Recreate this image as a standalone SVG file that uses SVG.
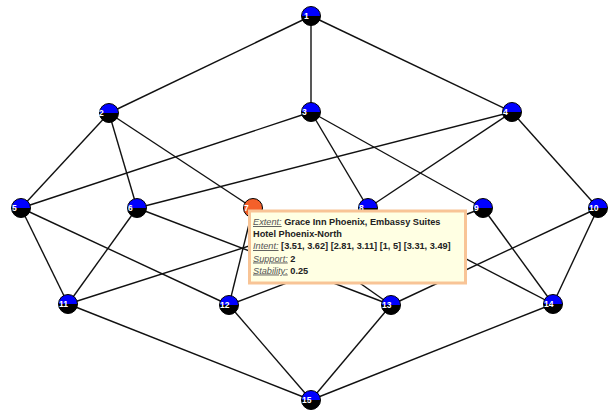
<svg xmlns="http://www.w3.org/2000/svg" width="610" height="417" viewBox="0 0 610 417">
<defs>
<style>
.e{stroke:#111;stroke-width:1.4;fill:none}
.top{fill:#0000ff}
.bot{fill:#000}
.ring{fill:none;stroke:#000;stroke-width:1}
.lbl{font-family:"Liberation Sans",Arial,sans-serif;font-size:8.5px;font-weight:bold;fill:#fff}
.tip{fill:#ffffe3;stroke:#f8c496;stroke-width:3}
.tt{font-family:"Liberation Sans",Arial,sans-serif;font-size:9.2px}
.k{font-style:italic;text-decoration:underline;fill:#555}
.v{font-weight:bold;fill:#222}
</style>
<g id="nd">
<path class="top" d="M-9.5,0 A9.5,9.5 0 0 1 9.5,0 Z"/>
<path class="bot" d="M-9.5,0 A9.5,9.5 0 0 0 9.5,0 Z"/>
<circle class="ring" r="9.5"/>
</g>
</defs>
<g id="edges">
<line class="e" x1="311" y1="16" x2="109" y2="113"/>
<line class="e" x1="311" y1="16" x2="311" y2="112"/>
<line class="e" x1="311" y1="16" x2="512" y2="112"/>
<line class="e" x1="109" y1="113" x2="21" y2="208"/>
<line class="e" x1="109" y1="113" x2="137" y2="208"/>
<line class="e" x1="109" y1="113" x2="253" y2="208"/>
<line class="e" x1="311" y1="112" x2="21" y2="208"/>
<line class="e" x1="311" y1="112" x2="368" y2="208"/>
<line class="e" x1="311" y1="112" x2="483" y2="208"/>
<line class="e" x1="512" y1="112" x2="137" y2="208"/>
<line class="e" x1="512" y1="112" x2="368" y2="208"/>
<line class="e" x1="512" y1="112" x2="598" y2="208"/>
<line class="e" x1="21" y1="208" x2="68" y2="304"/>
<line class="e" x1="21" y1="208" x2="229" y2="305"/>
<line class="e" x1="137" y1="208" x2="68" y2="304"/>
<line class="e" x1="137" y1="208" x2="391" y2="305"/>
<line class="e" x1="253" y1="208" x2="229" y2="305"/>
<line class="e" x1="253" y1="208" x2="391" y2="305"/>
<line class="e" x1="368" y1="208" x2="68" y2="304"/>
<line class="e" x1="368" y1="208" x2="553" y2="304"/>
<line class="e" x1="483" y1="208" x2="229" y2="305"/>
<line class="e" x1="483" y1="208" x2="553" y2="304"/>
<line class="e" x1="598" y1="208" x2="391" y2="305"/>
<line class="e" x1="598" y1="208" x2="553" y2="304"/>
<line class="e" x1="68" y1="304" x2="311" y2="400"/>
<line class="e" x1="229" y1="305" x2="311" y2="400"/>
<line class="e" x1="391" y1="305" x2="311" y2="400"/>
<line class="e" x1="553" y1="304" x2="311" y2="400"/>
</g>
<g id="n1"><use href="#nd" x="311" y="16"/><text class="lbl" x="304" y="19">1</text></g>
<g id="n2"><use href="#nd" x="109" y="113"/><text class="lbl" x="99" y="116">2</text></g>
<g id="n3"><use href="#nd" x="311" y="112"/><text class="lbl" x="302" y="115">3</text></g>
<g id="n4"><use href="#nd" x="512" y="112"/><text class="lbl" x="503" y="115">4</text></g>
<g id="n5"><use href="#nd" x="21" y="208"/><text class="lbl" x="12" y="211">5</text></g>
<g id="n6"><use href="#nd" x="137" y="208"/><text class="lbl" x="128" y="211">6</text></g>
<g id="n7"><circle cx="253" cy="208" r="9.5" fill="#f4602a" stroke="#000" stroke-width="1"/><text class="lbl" x="244" y="211">7</text></g>
<g id="n8"><use href="#nd" x="368" y="208"/><text class="lbl" x="359" y="211">8</text></g>
<g id="n9"><use href="#nd" x="483" y="208"/><text class="lbl" x="474" y="211">9</text></g>
<g id="n10"><use href="#nd" x="598" y="208"/><text class="lbl" x="589" y="211">10</text></g>
<g id="n11"><use href="#nd" x="68" y="304"/><text class="lbl" x="59" y="307">11</text></g>
<g id="n12"><use href="#nd" x="229" y="305"/><text class="lbl" x="220" y="308">12</text></g>
<g id="n13"><use href="#nd" x="391" y="305"/><text class="lbl" x="382" y="308">13</text></g>
<g id="n14"><use href="#nd" x="553" y="304"/><text class="lbl" x="544" y="307">14</text></g>
<g id="n15"><use href="#nd" x="311" y="400"/><text class="lbl" x="302" y="403">15</text></g>
<g id="tooltip">
<rect class="tip" x="249.5" y="211" width="216" height="72"/>
<text class="tt" x="253" y="225"><tspan class="k">Extent:</tspan> <tspan class="v">Grace Inn Phoenix, Embassy Suites</tspan></text>
<text class="tt v" x="253" y="237">Hotel Phoenix-North</text>
<text class="tt" x="253" y="249"><tspan class="k">Intent:</tspan> <tspan class="v">[3.51, 3.62] [2.81, 3.11] [1, 5] [3.31, 3.49]</tspan></text>
<text class="tt" x="253" y="261.5"><tspan class="k">Support:</tspan> <tspan class="v">2</tspan></text>
<text class="tt" x="253" y="273.5"><tspan class="k">Stability:</tspan> <tspan class="v">0.25</tspan></text>
</g>
</svg>
